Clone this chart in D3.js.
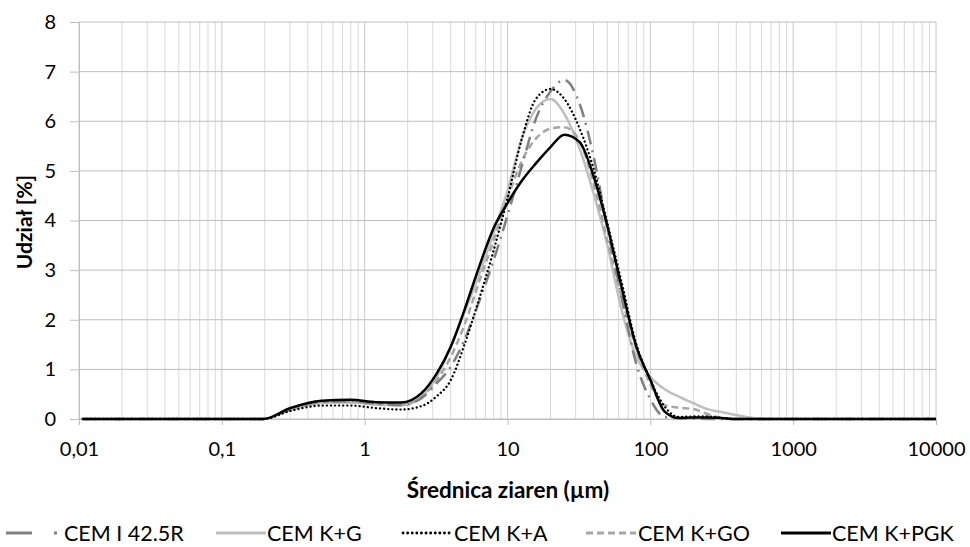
<!DOCTYPE html>
<html><head><meta charset="utf-8">
<script src="https://cdn.jsdelivr.net/npm/d3@7"></script>
<style>
html,body{margin:0;padding:0;background:#fff;}
text{font-family:Lato,"Open Sans",sans-serif;}
</style></head>
<body><svg id="c" width="970" height="547"></svg>
<script>
// grain sizes (µm)
const sizes = [0.0106, 0.195, 0.3, 0.5, 0.8, 1.2, 1.8, 2.5, 3.2, 4, 5, 6.3, 8, 10, 12.6, 15.8, 20, 25, 32, 40, 50, 63, 79, 100, 126, 158, 200, 251, 316, 398, 631, 1000, 10000];
const cemI   = [0, 0, 0.19, 0.35, 0.36, 0.31, 0.28, 0.42, 0.72, 1.05, 1.60, 2.35, 3.20, 4.10, 5.10, 6.05, 6.60, 6.83, 6.35, 5.30, 3.85, 2.45, 1.15, 0.40, 0.04, 0.02, 0.01, 0, 0, 0, 0, 0, 0];
const cemKG  = [0, 0, 0.18, 0.32, 0.33, 0.29, 0.27, 0.45, 0.85, 1.45, 2.15, 2.90, 3.75, 4.60, 5.65, 6.25, 6.45, 6.15, 5.45, 4.55, 3.50, 2.20, 1.28, 0.85, 0.60, 0.45, 0.32, 0.20, 0.14, 0.08, 0, 0, 0];
const cemKA  = [0, 0, 0.16, 0.27, 0.27, 0.22, 0.19, 0.26, 0.46, 0.78, 1.50, 2.40, 3.40, 4.45, 5.65, 6.45, 6.65, 6.45, 5.85, 5.05, 3.95, 2.75, 1.55, 0.79, 0.25, 0.04, 0.05, 0.05, 0.02, 0, 0, 0, 0];
const cemKGO = [0, 0, 0.19, 0.34, 0.35, 0.30, 0.29, 0.45, 0.78, 1.25, 1.90, 2.75, 3.60, 4.45, 5.20, 5.65, 5.85, 5.88, 5.60, 4.75, 3.60, 2.45, 1.45, 0.70, 0.28, 0.23, 0.20, 0.10, 0.02, 0, 0, 0, 0];
const cemKPGK= [0, 0, 0.22, 0.37, 0.39, 0.34, 0.33, 0.52, 0.92, 1.45, 2.20, 3.05, 3.85, 4.35, 4.80, 5.15, 5.48, 5.73, 5.58, 4.90, 3.89, 2.65, 1.50, 0.79, 0.15, 0.02, 0.03, 0.03, 0.02, 0, 0, 0, 0];
const seriesNames = ["CEM I 42.5R", "CEM K+G", "CEM K+A", "CEM K+GO", "CEM K+PGK"];
const xTickValues = [0.01, 0.1, 1, 10, 100, 1000, 10000];
const xTickLabels = ["0,01", "0,1", "1", "10", "100", "1000", "10000"];
const yTickValues = [0, 1, 2, 3, 4, 5, 6, 7, 8];
const xTitle = "Średnica ziaren (µm)";
const yTitle = "Udział [%]";

const styles = [
  {color:"#808080", width:2.5, dash:"14,6,2,6", cap:"butt"},
  {color:"#bfbfbf", width:2.5, dash:null, cap:"butt"},
  {color:"#000000", width:2.3, dash:"0.1,4", cap:"round"},
  {color:"#a6a6a6", width:2.5, dash:"7,4", cap:"butt"},
  {color:"#000000", width:2.5, dash:null, cap:"butt"}
];
const allSeries = [cemI, cemKG, cemKA, cemKGO, cemKPGK];

const svg = d3.select("#c");
const x = d3.scaleLog().domain([0.01, 10000]).range([79, 936]);
const y = d3.scaleLinear().domain([0, 8]).range([419, 22]);

// minor vertical gridlines
const minor = [];
for (let e = -2; e < 4; e++) for (let m = 2; m <= 9; m++) minor.push(m * Math.pow(10, e));
svg.append("g").selectAll("line").data(minor).join("line")
  .attr("x1", d => x(d)).attr("x2", d => x(d)).attr("y1", y(8)).attr("y2", y(0))
  .attr("stroke", "#d9d9d9").attr("stroke-width", 1);
svg.append("g").selectAll("line").data(xTickValues).join("line")
  .attr("x1", d => x(d)).attr("x2", d => x(d)).attr("y1", y(8)).attr("y2", y(0))
  .attr("stroke", "#c8c8c8").attr("stroke-width", 1);
svg.append("g").selectAll("line").data(yTickValues).join("line")
  .attr("x1", x(0.01)).attr("x2", x(10000)).attr("y1", d => y(d)).attr("y2", d => y(d))
  .attr("stroke", "#bfbfbf").attr("stroke-width", 1);

// axes
const xAxis = d3.axisBottom(x).tickValues(xTickValues).tickFormat((d, i) => xTickLabels[i]).tickSize(6).tickPadding(17);
const gx = svg.append("g").attr("transform", `translate(0,${y(0)})`).call(xAxis);
gx.select(".domain").attr("stroke", "#bfbfbf");
gx.selectAll(".tick line").attr("stroke", "#bfbfbf");
gx.selectAll("text").attr("font-size", 20).attr("fill", "#000").attr("font-family", "Lato");

const yAxis = d3.axisLeft(y).tickValues(yTickValues).tickSize(9).tickPadding(14);
const gy = svg.append("g").attr("transform", `translate(${x(0.01)},0)`).call(yAxis);
gy.select(".domain").attr("stroke", "#bfbfbf");
gy.selectAll(".tick line").attr("stroke", "#bfbfbf");
gy.selectAll("text").attr("font-size", 20).attr("fill", "#000").attr("font-family", "Lato");

// lines
const line = d3.line().x((d, i) => x(sizes[i])).y(d => y(d)).curve(d3.curveMonotoneX);
const order = [1, 3, 0, 2, 4];
order.forEach(k => {
  const s = styles[k];
  svg.append("path").datum(allSeries[k]).attr("d", line)
    .attr("fill", "none").attr("stroke", s.color).attr("stroke-width", s.width)
    .attr("stroke-dasharray", s.dash).attr("stroke-linecap", s.cap).attr("stroke-linejoin", "round");
});

// titles
svg.append("text").attr("x", 508).attr("y", 498).attr("text-anchor", "middle")
  .attr("font-size", 22.5).attr("font-weight", "bold").text(xTitle);
svg.append("text").attr("transform", "translate(32,222) rotate(-90)").attr("text-anchor", "middle")
  .attr("font-size", 21).attr("font-weight", "bold").text(yTitle);

// legend
const legX = [6, 216, 403, 586, 781];
const legTx = [64, 267, 454, 638, 832];
const lg = svg.append("g");
seriesNames.forEach((n, k) => {
  const s = styles[k];
  const x0 = legX[k];
  lg.append("line").attr("x1", x0).attr("x2", x0 + (k === 0 ? 52 : 50)).attr("y1", 533).attr("y2", 533)
    .attr("stroke", s.color).attr("stroke-width", s.width + 0.5)
    .attr("stroke-dasharray", k === 0 ? "26,22,3,20" : (k === 2 ? "0.1,4.5" : s.dash)).attr("stroke-linecap", s.cap);
  lg.append("text").attr("x", legTx[k]).attr("y", 540.5).attr("font-size", 21.5).text(n);
});
</script></body></html>
